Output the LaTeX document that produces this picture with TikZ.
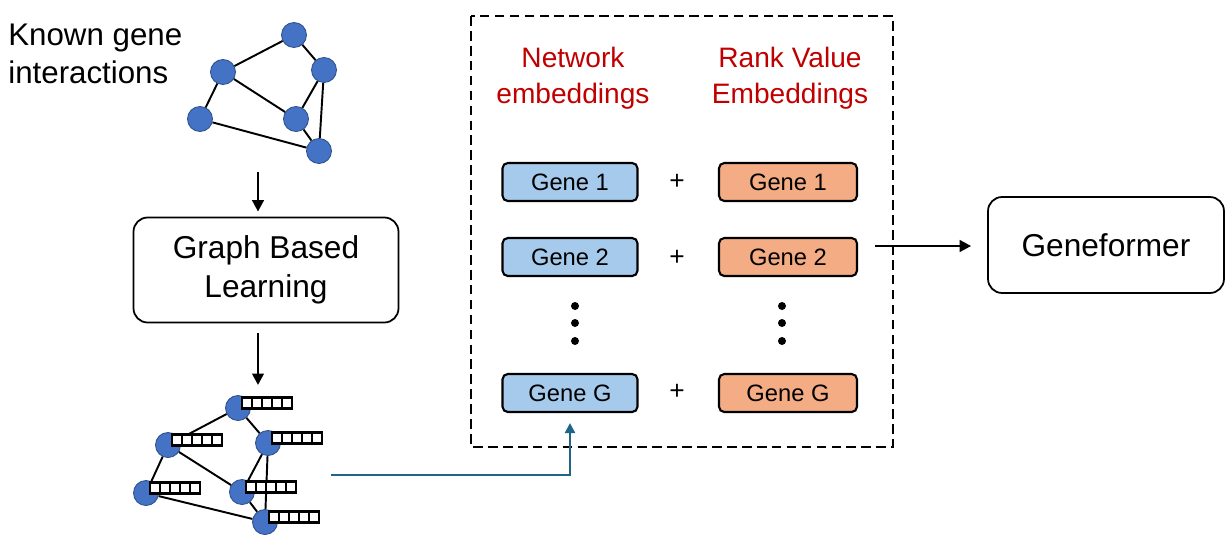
\documentclass[tikz,border=0pt]{standalone}
\usepackage{fontspec}
\setmainfont{Liberation Sans}
\usetikzlibrary{arrows.meta, positioning, calc}
\definecolor{nodeblue}{HTML}{4472C4}
\definecolor{nodeedge}{HTML}{2F528F}
\definecolor{netblue}{HTML}{A6CAEC}
\definecolor{rankorange}{HTML}{F4AC84}
\definecolor{embred}{HTML}{C00000}
\definecolor{linkteal}{HTML}{1F6587}
% row of five embedding cells beside a gene node
\newcommand{\embvec}[1]{%
  \foreach \c in {0,...,4}
    \draw[cell] ($(#1)+(4+10*\c,0)$) rectangle ++(10,-11);
}

\begin{document}
\begin{tikzpicture}[
    x=0.02cm, y=-0.02cm,
    gene/.style={circle, draw=nodeedge, line width=0.5pt, fill=nodeblue,
                 minimum size=0.5cm, inner sep=0pt},
    link/.style={line width=1.1pt},
    cell/.style={draw=black, line width=1.7pt, fill=white},
    stage/.style={draw, rounded corners=8pt, line width=1pt, align=center,
                  font=\fontsize{18}{22.5}\selectfont},
    netemb/.style={draw, rounded corners=3pt, line width=1.2pt, fill=netblue,
                   minimum width=2.7cm, minimum height=0.76cm,
                   font=\fontsize{13.5}{16}\selectfont},
    rankemb/.style={netemb, fill=rankorange, minimum width=2.76cm},
    head/.style={text=embred, align=center, font=\fontsize{16}{20.5}\selectfont},
    plus/.style={font=\fontsize{15}{16}\selectfont},
    vdot/.style={circle, fill=black, inner sep=0pt, minimum size=0.16cm},
    flow/.style={->, line width=1.5pt},
    >={Triangle[length=2.3mm, width=2.3mm]}
]
\useasboundingbox (0,0) rectangle (1225,535);
% ============== Left: known interactions -> learning -> embedded graph ==============
\node[anchor=west, inner sep=0pt, align=left, font=\fontsize{17.8}{21.5}\selectfont]
  (known) at (8,54) {Known gene\\interactions};
% input gene graph
\node[gene] (k1) at (294,35) {};
\node[gene] (k2) at (223,72) {};
\node[gene] (k3) at (324,70) {};
\node[gene] (k4) at (200,119) {};
\node[gene] (k5) at (296,119) {};
\node[gene] (k6) at (319,151) {};
\draw[link] (k1) -- (k2) (k1) -- (k3) (k2) -- (k5) (k2) -- (k4)
            (k4) -- (k6) (k3) -- (k5) (k3) -- (k6) (k5) -- (k6);
% learning step
\node[stage, minimum width=5.3cm, minimum height=2.1cm] (gbl) at (266,270)
  {Graph Based\\Learning};
\coordinate (kbase) at (258,172);
\coordinate (etop) at (258,385);
\draw[flow] (kbase) -- ([yshift=0.1cm]kbase |- gbl.north);
\draw[flow] ([yshift=-0.2cm]etop |- gbl.south) -- (etop);
% embedded gene graph
\node[gene] (e1) at (238,408) {};
\node[gene] (e2) at (168,445) {};
\node[gene] (e3) at (268,443) {};
\node[gene] (e4) at (146,493) {};
\node[gene] (e5) at (242,492) {};
\node[gene] (e6) at (265,522) {};
\draw[link] (e1) -- (e2) (e1) -- (e3) (e2) -- (e4) (e2) -- (e5)
            (e4) -- (e6) (e3) -- (e5) (e3) -- (e6) (e5) -- (e6);
\foreach \g in {e1,e2,e3,e4,e5,e6} {\embvec{\g}}
% ============== Middle: embeddings ==================
\draw[dashed, dash pattern=on 5.5pt off 3pt, line width=1.4pt] (471,16) rectangle (893,447);
\node[head] (nethead) at (573,78) {Network\\embeddings};
\node[head] (rankhead) at (790,78) {Rank Value\\Embeddings};
\node[netemb] (n1) at (570,182) {Gene 1};
\node[netemb] (n2) at (570,257) {Gene 2};
\node[netemb] (nG) at (570,393) {Gene G};
\node[rankemb] (r1) at (788,182) {Gene 1};
\node[rankemb] (r2) at (788,257) {Gene 2};
\node[rankemb] (rG) at (788,393) {Gene G};
\node[plus] (p1) at (677,182) {+};
\node[plus] (p2) at (677,258) {+};
\node[plus] (pG) at (677,392) {+};
\foreach \y [count=\i] in {306,323,341} {
  \node[vdot] (nd\i) at (575,\y) {};
  \node[vdot] (rd\i) at (782,\y) {};
}
% graph embeddings feed the network embeddings
\coordinate (efrom) at (331,475);
\draw[->, linkteal, line width=1.3pt, >={Triangle[length=2mm, width=2mm]}]
  (efrom) -| ([yshift=-0.2cm]nG.south);
% ============== Right: Geneformer ==================
\node[stage, minimum width=4.72cm, minimum height=1.92cm, font=\fontsize{18}{22}\selectfont]
  (gf) at (1106,245) {Geneformer};
\coordinate (eout) at (875,246);
\draw[flow] (eout) -- ([xshift=-0.32cm]gf.west |- eout);
\end{tikzpicture}
\end{document}
